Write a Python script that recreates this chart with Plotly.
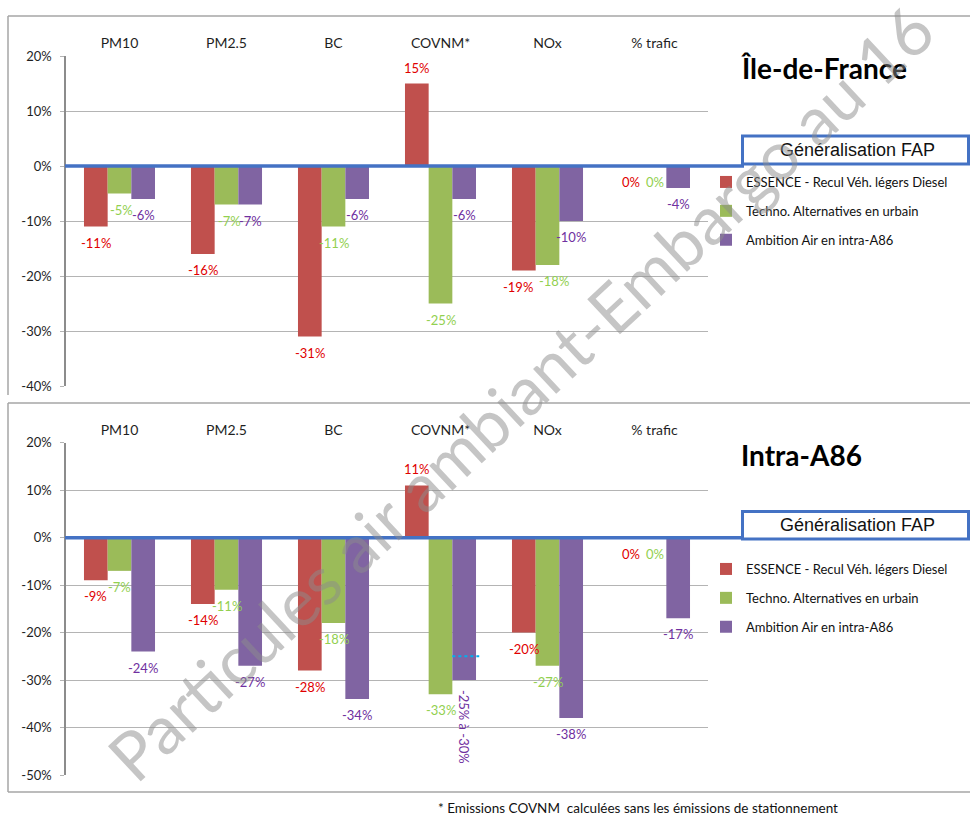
import plotly.graph_objects as go

# ---------------- data ----------------
categories = ["PM10", "PM2.5", "BC", "COVNM*", "NOx", "% trafic"]
series_names = ["ESSENCE - Recul Véh. légers Diesel",
                "Techno. Alternatives en urbain",
                "Ambition Air en intra-A86"]

idf_essence = [-11, -16, -31, 15, -19, 0]
idf_techno = [-5, -7, -11, -25, -18, 0]
idf_ambition = [-6, -7, -6, -6, -10, -4]

a86_essence = [-9, -14, -28, 11, -20, 0]
a86_techno = [-7, -11, -18, -33, -27, 0]
a86_ambition = [-24, -27, -34, -30, -38, -17]

a86_covnm_range_low = -25
a86_covnm_range_label = "-25% à -30%"

idf_ticks = [20, 10, 0, -10, -20, -30, -40]
a86_ticks = [20, 10, 0, -10, -20, -30, -40, -50]

panel_titles = ["Île-de-France", "Intra-A86"]
box_text = "Généralisation FAP"
footnote = "* Emissions COVNM  calculées sans les émissions de stationnement"
watermark = "Particules air ambiant-Embargo au 16"

# ---------------- style ----------------
W, H = 970, 815
def px(x):
    return x / W
def py(y):
    return 1 - y / H

bar_colors = ["#C0504D", "#9BBB59", "#8064A2"]
label_colors = ["#E00000", "#92D050", "#7030A0"]
FONT = "Lato"
BARGAP = 0.336
bw = (1 - BARGAP) / 3
grid_c = "#B4B4B4"
axis_c = "#8C8C8C"
# small horizontal nudges (px) of some value labels, keyed (panel, series, category)
label_nudge = {(0, 0, 4): -6, (0, 1, 4): 6, (0, 1, 0): 2, (0, 1, 1): 3}

fig = go.Figure()

panels = [
    dict(xa="x", ya="y", legend="legend", series=[idf_essence, idf_techno, idf_ambition]),
    dict(xa="x2", ya="y2", legend="legend2", series=[a86_essence, a86_techno, a86_ambition]),
]

annotations = []
for p_i, p in enumerate(panels):
    for j, vals in enumerate(p["series"]):
        fig.add_trace(go.Bar(
            x=categories, y=vals, name=series_names[j],
            marker=dict(color=bar_colors[j], line=dict(width=0)),
            xaxis=p["xa"], yaxis=p["ya"], legend=p["legend"],
            legendgroup=f"{p_i}_{j}", showlegend=True, hoverinfo="skip",
        ))
        for i, v in enumerate(vals):
            xpos = i + (j - 1) * bw
            txt = f"{v}%"
            angle = 0
            shift = 16 if v > 0 else -16
            if p_i == 1 and j == 2 and categories[i] == "COVNM*":
                txt = a86_covnm_range_label
                angle = 90
                shift = -47
            annotations.append(dict(
                x=xpos, y=v, xref=p["xa"], yref=p["ya"], text=txt,
                showarrow=False, textangle=angle, yshift=shift,
                xshift=label_nudge.get((p_i, j, i), 0),
                xanchor="center", yanchor="middle",
                font=dict(family=FONT, size=13, color=label_colors[j]),
            ))

# y domains
dom_top = [py(386), py(56)]
dom_bot = [py(775), py(442.7)]
zero_top = 56 + 20 / 60 * (386 - 56)
zero_bot = 442.7 + 20 / 70 * (775 - 442.7)

axis_common_x = dict(
    type="category", domain=[px(66), px(708)], side="top",
    showline=False, showgrid=False, ticks="", zeroline=False, automargin=False,
    tickfont=dict(family=FONT, size=14, color="#1F1F1F"),
    ticklabelstandoff=4, range=[-0.5, 5.5],
)
boundary_axis = dict(
    type="linear", domain=[px(66), px(708)], range=[-0.5, 5.5], anchor="free",
    side="top", showline=False, showgrid=False, zeroline=False, showticklabels=False,
    ticks="outside", ticklen=5, tickwidth=1.2, tickcolor=axis_c, automargin=False,
    tickvals=[k + 0.5 for k in range(len(categories))],
)
fig.update_layout(
    xaxis=dict(anchor="y", **axis_common_x),
    xaxis2=dict(anchor="y2", **axis_common_x),
    xaxis3=dict(overlaying="x", position=py(zero_top), **boundary_axis),
    xaxis4=dict(overlaying="x2", position=py(zero_bot), **boundary_axis),
    yaxis=dict(domain=dom_top, range=[-40, 20], tickvals=idf_ticks,
               ticktext=[f"{t}%" for t in idf_ticks]),
    yaxis2=dict(domain=dom_bot, range=[-50, 20], tickvals=a86_ticks,
                ticktext=[f"{t}%" for t in a86_ticks]),
)
for ya in ["yaxis", "yaxis2"]:
    fig.layout[ya].update(
        anchor="x" if ya == "yaxis" else "x2", automargin=False,
        showline=True, linecolor=axis_c, linewidth=1.5,
        showgrid=True, gridcolor=grid_c, gridwidth=1,
        zeroline=False, ticks="outside", ticklen=4, tickcolor=grid_c,
        ticklabelstandoff=6,
        tickfont=dict(family=FONT, size=13, color="#1F1F1F"),
    )

shapes = []
# frames
frame = dict(color="#A6A6A6", width=1.5)
shapes += [
    dict(type="line", xref="paper", yref="paper", x0=px(8), x1=1, y0=py(16), y1=py(16), line=frame),
    dict(type="line", xref="paper", yref="paper", x0=px(8), x1=px(8), y0=py(16), y1=py(395), line=frame),
    dict(type="line", xref="paper", yref="paper", x0=px(8), x1=1, y0=py(403), y1=py(403), line=frame),
    dict(type="line", xref="paper", yref="paper", x0=px(8), x1=px(8), y0=py(403), y1=py(792), line=frame),
    dict(type="line", xref="paper", yref="paper", x0=px(8), x1=1, y0=py(792), y1=py(792), line=frame),
]
blue = "#4472C4"
box_rows = [(136, 164), (511.5, 539)]
for k, ya in enumerate(["y", "y2"]):
    shapes.append(dict(type="line", xref="paper", yref=ya, x0=px(65), x1=px(744),
                       y0=0, y1=0, line=dict(color=blue, width=3.5), layer="above"))
    t, b = box_rows[k]
    shapes.append(dict(type="rect", xref="paper", yref="paper", x0=px(742.5), x1=px(968.5),
                       y0=py(b), y1=py(t), line=dict(color=blue, width=3), fillcolor="white",
                       layer="above"))
    annotations.append(dict(xref="paper", yref="paper", x=px(857), y=py((t + b) / 2),
                            text=box_text, showarrow=False, xanchor="center", yanchor="middle",
                            font=dict(family="Liberation Sans", size=18, color="#111111")))

# dotted marker for the range on COVNM (Intra-A86)
shapes.append(dict(type="line", xref="x2", yref="y2",
                   x0=3 + bw / 2, x1=3 + 1.5 * bw + 0.03,
                   y0=a86_covnm_range_low, y1=a86_covnm_range_low,
                   line=dict(color="#00B0F0", width=2, dash="dot"), layer="above"))

# titles
for k, yy in enumerate([68, 455]):
    annotations.append(dict(xref="paper", yref="paper", x=px(739), y=py(yy), text=f"<b>{panel_titles[k]}</b>",
                            showarrow=False, xanchor="left", yanchor="middle",
                            font=dict(family=FONT, size=28, color="#000000")))

annotations.append(dict(xref="paper", yref="paper", x=px(436), y=py(808), text=footnote,
                        showarrow=False, xanchor="left", yanchor="middle",
                        font=dict(family=FONT, size=13.5, color="#111111")))

annotations.append(dict(xref="paper", yref="paper", x=px(520), y=py(392), text=watermark,
                        showarrow=False, xanchor="center", yanchor="middle", textangle=-43,
                        font=dict(family=FONT, size=67, color="rgba(140,140,140,0.5)")))

legend_common = dict(
    bgcolor="rgba(0,0,0,0)", borderwidth=0, traceorder="grouped", tracegroupgap=9,
    font=dict(family=FONT, size=13, color="#111111"), xanchor="left", yanchor="top",
)
fig.update_layout(
    legend=dict(x=px(706), y=py(167), **legend_common),
    legend2=dict(x=px(706), y=py(554), **legend_common),
)

fig.update_layout(
    width=W, height=H, margin=dict(l=0, r=0, t=0, b=0, autoexpand=False),
    paper_bgcolor="white", plot_bgcolor="white",
    barmode="group", bargap=BARGAP, bargroupgap=0,
    shapes=shapes, annotations=annotations,
    font=dict(family=FONT),
)

fig.write_html(
    "out.html",
    config={"displayModeBar": False},
    post_script="document.body.style.margin='0px';document.body.style.padding='0px';"
                "document.body.style.overflow='hidden';",
)
